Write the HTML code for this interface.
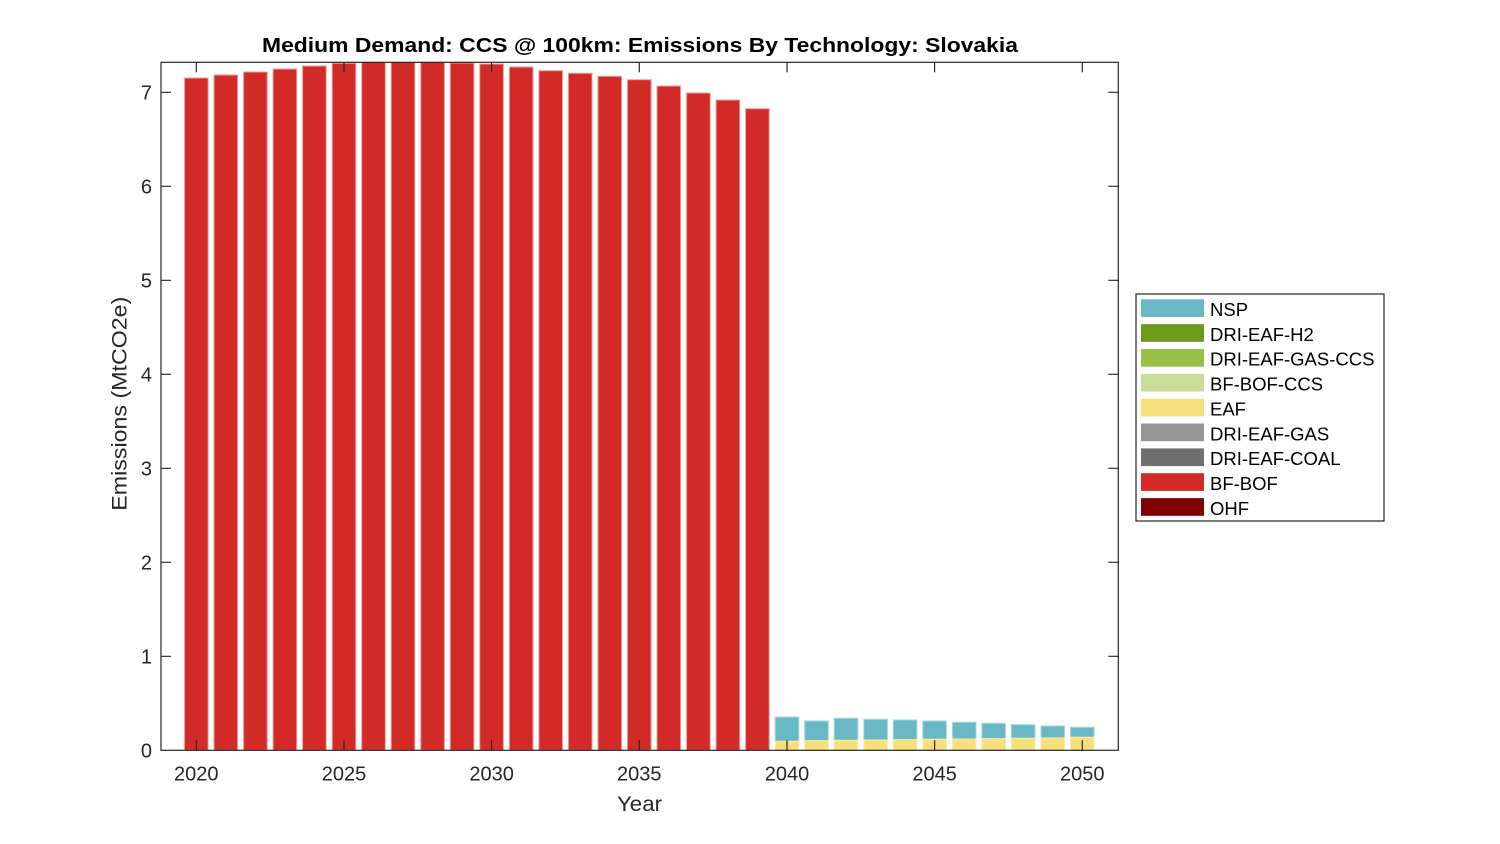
<!DOCTYPE html>
<html>
<head>
<meta charset="utf-8">
<style>
html,body{margin:0;padding:0;background:#fff;}
svg{display:block;}
text{font-family:"Liberation Sans",Arial,sans-serif;}
</style>
</head>
<body>
<svg width="1500" height="844" viewBox="0 0 1500 844" xmlns="http://www.w3.org/2000/svg">
<rect x="0" y="0" width="1500" height="844" fill="#fff"/>
<defs><clipPath id="pc"><rect x="161" y="62.3" width="957.3" height="688"/></clipPath></defs>
<g clip-path="url(#pc)" stroke-width="1">
<!-- red BF-BOF bars -->
<g fill="#D22A26" stroke="#E8A09E">
<rect x="184.5" y="78" width="23.6" height="672.3"/>
<rect x="214.0" y="75" width="23.6" height="675.3"/>
<rect x="243.6" y="72" width="23.6" height="678.3"/>
<rect x="273.1" y="69" width="23.6" height="681.3"/>
<rect x="302.6" y="66" width="23.6" height="684.3"/>
<rect x="332.2" y="63.3" width="23.6" height="687"/>
<rect x="361.7" y="61" width="23.6" height="689.3"/>
<rect x="391.2" y="61" width="23.6" height="689.3"/>
<rect x="420.8" y="61" width="23.6" height="689.3"/>
<rect x="450.3" y="63" width="23.6" height="687.3"/>
<rect x="479.8" y="64" width="23.6" height="686.3"/>
<rect x="509.4" y="67" width="23.6" height="683.3"/>
<rect x="538.9" y="70.7" width="23.6" height="679.6"/>
<rect x="568.4" y="73.3" width="23.6" height="677"/>
<rect x="598.0" y="76.3" width="23.6" height="674"/>
<rect x="627.5" y="79.7" width="23.6" height="670.6"/>
<rect x="657.0" y="86" width="23.6" height="664.3"/>
<rect x="686.6" y="93" width="23.6" height="657.3"/>
<rect x="716.1" y="100" width="23.6" height="650.3"/>
<rect x="745.6" y="108.7" width="23.6" height="641.6"/>
</g>
<!-- NSP bars -->
<g fill="#68B8C6" stroke="#A8D6DE">
<rect x="775.2" y="717" width="23.6" height="24.3"/>
<rect x="804.7" y="721" width="23.6" height="19.7"/>
<rect x="834.2" y="718.3" width="23.6" height="22"/>
<rect x="863.8" y="719.3" width="23.6" height="20.7"/>
<rect x="893.3" y="720" width="23.6" height="19.7"/>
<rect x="922.8" y="721" width="23.6" height="18.3"/>
<rect x="952.4" y="722.3" width="23.6" height="16.7"/>
<rect x="981.9" y="723.3" width="23.6" height="15.4"/>
<rect x="1011.4" y="724.7" width="23.6" height="13.6"/>
<rect x="1041.0" y="726" width="23.6" height="12"/>
<rect x="1070.5" y="727.3" width="23.6" height="10"/>
</g>
<!-- EAF bars -->
<g fill="#F7E07A" stroke="#FBEDB0">
<rect x="775.2" y="741.3" width="23.6" height="9"/>
<rect x="804.7" y="740.7" width="23.6" height="9.6"/>
<rect x="834.2" y="740.3" width="23.6" height="10"/>
<rect x="863.8" y="740" width="23.6" height="10.3"/>
<rect x="893.3" y="739.7" width="23.6" height="10.6"/>
<rect x="922.8" y="739.3" width="23.6" height="11"/>
<rect x="952.4" y="739" width="23.6" height="11.3"/>
<rect x="981.9" y="738.7" width="23.6" height="11.6"/>
<rect x="1011.4" y="738.3" width="23.6" height="12"/>
<rect x="1041.0" y="738" width="23.6" height="12.3"/>
<rect x="1070.5" y="737.3" width="23.6" height="13"/>
</g>
</g>
<!-- axes box -->
<rect x="161" y="62.3" width="957.3" height="688" fill="none" stroke="#262626" stroke-width="1.2"/>
<!-- ticks -->
<g stroke="#262626" stroke-width="1.2">
<path d="M196.3 750.3v-10M344 750.3v-10M491.6 750.3v-10M639.3 750.3v-10M787 750.3v-10M934.6 750.3v-10M1082.3 750.3v-10"/>
<path d="M196.3 62.3v10M344 62.3v10M491.6 62.3v10M639.3 62.3v10M787 62.3v10M934.6 62.3v10M1082.3 62.3v10"/>
<path d="M161 656.3h10M161 562.3h10M161 468.3h10M161 374.3h10M161 280.3h10M161 186.3h10M161 92.3h10"/>
<path d="M1118.3 656.3h-10M1118.3 562.3h-10M1118.3 468.3h-10M1118.3 374.3h-10M1118.3 280.3h-10M1118.3 186.3h-10M1118.3 92.3h-10"/>
</g>
<!-- y tick labels -->
<g font-size="20" fill="#262626" text-anchor="end">
<text x="152" y="757.5">0</text>
<text x="152" y="663.5">1</text>
<text x="152" y="569.5">2</text>
<text x="152" y="475.5">3</text>
<text x="152" y="381.5">4</text>
<text x="152" y="287.5">5</text>
<text x="152" y="193.5">6</text>
<text x="152" y="99.5">7</text>
</g>
<!-- x tick labels -->
<g font-size="20" fill="#262626" text-anchor="middle">
<text x="196.3" y="780.5">2020</text>
<text x="344" y="780.5">2025</text>
<text x="491.6" y="780.5">2030</text>
<text x="639.3" y="780.5">2035</text>
<text x="787" y="780.5">2040</text>
<text x="934.6" y="780.5">2045</text>
<text x="1082.3" y="780.5">2050</text>
</g>
<!-- axis labels -->
<text x="617" y="811" font-size="21.5" fill="#262626" textLength="45" lengthAdjust="spacingAndGlyphs">Year</text>
<text transform="translate(126.7,510.7) rotate(-90)" x="0" y="0" font-size="21.5" fill="#262626" textLength="214" lengthAdjust="spacingAndGlyphs">Emissions (MtCO2e)</text>
<!-- title -->
<text x="262" y="52" font-size="20" font-weight="bold" fill="#000" textLength="756" lengthAdjust="spacingAndGlyphs">Medium Demand: CCS @ 100km: Emissions By Technology: Slovakia</text>
<!-- legend -->
<rect x="1136" y="294" width="248" height="227" fill="#fff" stroke="#262626" stroke-width="1.2"/>
<g>
<rect x="1141" y="299.3" width="63" height="17.7" fill="#68B8C6"/>
<rect x="1141" y="324.1" width="63" height="17.7" fill="#6E9A1A"/>
<rect x="1141" y="349.0" width="63" height="17.7" fill="#9BC049"/>
<rect x="1141" y="373.8" width="63" height="17.7" fill="#C9DC9A"/>
<rect x="1141" y="398.7" width="63" height="17.7" fill="#F7E07A"/>
<rect x="1141" y="423.5" width="63" height="17.7" fill="#969696"/>
<rect x="1141" y="448.4" width="63" height="17.7" fill="#6E6E6E"/>
<rect x="1141" y="473.2" width="63" height="17.7" fill="#D22A26"/>
<rect x="1141" y="498.1" width="63" height="17.7" fill="#7F0000"/>
</g>
<g font-size="18.5" fill="#000">
<text x="1210" y="316">NSP</text>
<text x="1210" y="340.9">DRI-EAF-H2</text>
<text x="1210" y="365.7">DRI-EAF-GAS-CCS</text>
<text x="1210" y="390.6">BF-BOF-CCS</text>
<text x="1210" y="415.4">EAF</text>
<text x="1210" y="440.3">DRI-EAF-GAS</text>
<text x="1210" y="465.1">DRI-EAF-COAL</text>
<text x="1210" y="490">BF-BOF</text>
<text x="1210" y="514.8">OHF</text>
</g>
</svg>
</body>
</html>
